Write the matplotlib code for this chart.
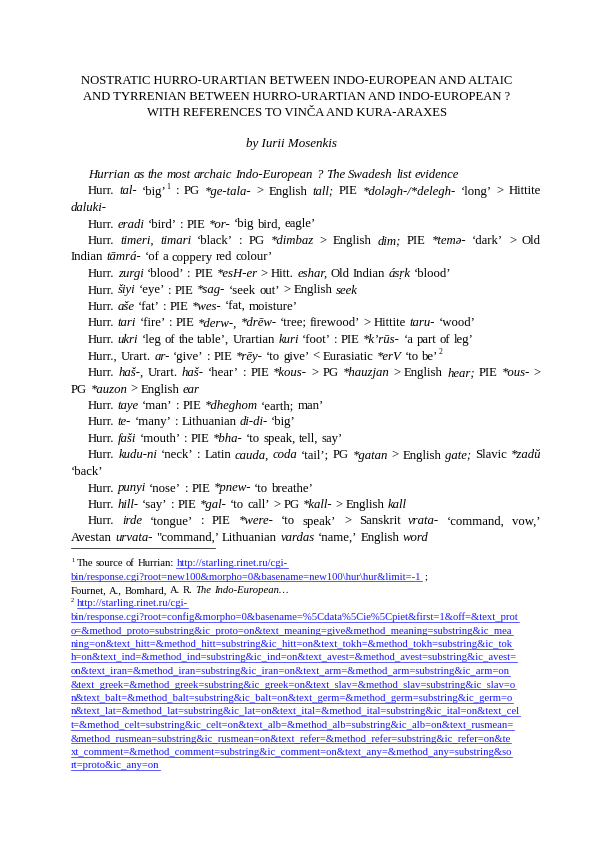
import matplotlib
matplotlib.use("Agg")
import matplotlib.pyplot as plt

W, H = 595, 842
fig = plt.figure(figsize=(W/72, H/72), dpi=72)
fig.patch.set_facecolor("white")
FAM = "Liberation Serif"

title_lines = [
    "NOSTRATIC HURRO-URARTIAN BETWEEN INDO-EUROPEAN AND ALTAIC",
    "AND TYRRENIAN BETWEEN HURRO-URARTIAN AND INDO-EUROPEAN ?",
    "WITH REFERENCES TO VINČA AND KURA-ARAXES",
]
author = "by Iurii Mosenkis"

body = [
    (True, False, [("Hurrian as the most archaic Indo-European ? The Swadesh list evidence", "i")]),
    (True, True, [("Hurr. ", "n"), ("tal-", "i"), (" ‘big’", "n"), ("1", "s"), (" : PG ", "n"), ("*ge-tala-", "i"), (" > English ", "n"), ("tall;", "i"), (" PIE ", "n"), ("*dolǝgh-/*delegh-", "i"), (" ‘long’ > Hittite", "n")]),
    (False, False, [("daluki-", "i")]),
    (True, False, [("Hurr. ", "n"), ("eradi", "i"), (" ‘bird’ : PIE ", "n"), ("*or-", "i"), (" ‘big bird, eagle’", "n")]),
    (True, True, [("Hurr. ", "n"), ("timeri, timari", "i"), (" ‘black’ : PG ", "n"), ("*dimbaz", "i"), (" > English ", "n"), ("dim;", "i"), (" PIE ", "n"), ("*temǝ-", "i"), (" ‘dark’ > Old", "n")]),
    (False, False, [("Indian ", "n"), ("tāmrá-", "i"), (" ‘of a coppery red colour’", "n")]),
    (True, False, [("Hurr. ", "n"), ("zurgi", "i"), (" ‘blood’ : PIE ", "n"), ("*esH-er", "i"), (" > Hitt. ", "n"), ("eshar,", "i"), (" Old Indian ", "n"), ("ásṛk", "i"), (" ‘blood’", "n")]),
    (True, False, [("Hurr. ", "n"), ("šiyi", "i"), (" ‘eye’ : PIE ", "n"), ("*sag-", "i"), (" ‘seek out’ > English ", "n"), ("seek", "i")]),
    (True, False, [("Hurr. ", "n"), ("aše", "i"), (" ‘fat’ : PIE ", "n"), ("*wes-", "i"), (" ‘fat, moisture’", "n")]),
    (True, False, [("Hurr. ", "n"), ("tari", "i"), (" ‘fire’ : PIE ", "n"), ("*derw-, *drēw-", "i"), (" ‘tree; firewood’ > Hittite ", "n"), ("taru-", "i"), (" ‘wood’", "n")]),
    (True, False, [("Hurr. ", "n"), ("ukri", "i"), (" ‘leg of the table’, Urartian ", "n"), ("kuri", "i"), (" ‘foot’ : PIE ", "n"), ("*k’rūs-", "i"), (" ‘a part of leg’", "n")]),
    (True, False, [("Hurr., Urart. ", "n"), ("ar-", "i"), (" ‘give’ : PIE ", "n"), ("*rēy-", "i"), (" ‘to give’ < Eurasiatic ", "n"), ("*erV", "i"), (" ‘to be’", "n"), ("2", "s")]),
    (True, True, [("Hurr. ", "n"), ("haš-,", "i"), (" Urart. ", "n"), ("haš-", "i"), (" ‘hear’ : PIE ", "n"), ("*kous-", "i"), (" > PG ", "n"), ("*hauzjan", "i"), (" > English ", "n"), ("hear;", "i"), (" PIE ", "n"), ("*ous-", "i"), (" >", "n")]),
    (False, False, [("PG ", "n"), ("*auzon", "i"), (" > English ", "n"), ("ear", "i")]),
    (True, False, [("Hurr. ", "n"), ("taye", "i"), (" ‘man’ : PIE ", "n"), ("*dheghom", "i"), (" ‘earth; man’", "n")]),
    (True, False, [("Hurr. ", "n"), ("te-", "i"), (" ‘many’ : Lithuanian ", "n"), ("di-di-", "i"), (" ‘big’", "n")]),
    (True, False, [("Hurr. ", "n"), ("faši", "i"), (" ‘mouth’ : PIE ", "n"), ("*bha-", "i"), (" ‘to speak, tell, say’", "n")]),
    (True, True, [("Hurr. ", "n"), ("kudu-ni", "i"), (" ‘neck’ : Latin ", "n"), ("cauda, coda", "i"), (" ‘tail’; PG ", "n"), ("*gatan", "i"), (" > English ", "n"), ("gate;", "i"), (" Slavic ", "n"), ("*zadŭ", "i")]),
    (False, False, [("‘back’", "n")]),
    (True, False, [("Hurr. ", "n"), ("punyi", "i"), (" ‘nose’ : PIE ", "n"), ("*pnew-", "i"), (" ‘to breathe’", "n")]),
    (True, False, [("Hurr. ", "n"), ("hill-", "i"), (" ‘say’ : PIE ", "n"), ("*gal-", "i"), (" ‘to call’ > PG ", "n"), ("*kall-", "i"), (" > English ", "n"), ("kall", "i")]),
    (True, True, [("Hurr. ", "n"), ("irde", "i"), (" ‘tongue’ : PIE ", "n"), ("*were-", "i"), (" ‘to speak’ > Sanskrit ", "n"), ("vrata-", "i"), (" ‘command, vow,’", "n")]),
    (False, False, [("Avestan ", "n"), ("urvata-", "i"), (" \"command,’ Lithuanian ", "n"), ("vardas", "i"), (" ‘name,’ English ", "n"), ("word", "i")]),
]

foot = [
    [("1", "s"), (" The source of Hurrian: ", "n"), ("http://starling.rinet.ru/cgi-", "l")],
    [("bin/response.cgi?root=new100&morpho=0&basename=new100\\hur\\hur&limit=-1", "l"), (" ;", "n")],
    [("Fournet, A., Bomhard, A. R. ", "n"), ("The Indo-European…", "i")],
    [("2", "s"), (" ", "n"), ("http://starling.rinet.ru/cgi-", "l")],
    [("bin/response.cgi?root=config&morpho=0&basename=%5Cdata%5Cie%5Cpiet&first=1&off=&text_prot", "l")],
    [("o=&method_proto=substring&ic_proto=on&text_meaning=give&method_meaning=substring&ic_mea", "l")],
    [("ning=on&text_hitt=&method_hitt=substring&ic_hitt=on&text_tokh=&method_tokh=substring&ic_tok", "l")],
    [("h=on&text_ind=&method_ind=substring&ic_ind=on&text_avest=&method_avest=substring&ic_avest=", "l")],
    [("on&text_iran=&method_iran=substring&ic_iran=on&text_arm=&method_arm=substring&ic_arm=on", "l")],
    [("&text_greek=&method_greek=substring&ic_greek=on&text_slav=&method_slav=substring&ic_slav=o", "l")],
    [("n&text_balt=&method_balt=substring&ic_balt=on&text_germ=&method_germ=substring&ic_germ=o", "l")],
    [("n&text_lat=&method_lat=substring&ic_lat=on&text_ital=&method_ital=substring&ic_ital=on&text_cel", "l")],
    [("t=&method_celt=substring&ic_celt=on&text_alb=&method_alb=substring&ic_alb=on&text_rusmean=", "l")],
    [("&method_rusmean=substring&ic_rusmean=on&text_refer=&method_refer=substring&ic_refer=on&te", "l")],
    [("xt_comment=&method_comment=substring&ic_comment=on&text_any=&method_any=substring&so", "l")],
    [("rt=proto&ic_any=on", "l")],
]

fig.canvas.draw()
R = fig.canvas.get_renderer()

def props(style, size):
    kw = dict(fontfamily=FAM, fontsize=size, color="black", va="baseline", ha="left")
    dy = 0
    if style == "i":
        kw["fontstyle"] = "italic"
    elif style == "s":
        kw["fontsize"] = size * 0.6
        dy = -size * 0.4
    elif style == "l":
        kw["color"] = "#1a1aff"
    return kw, dy

def measure(s, style, size):
    kw, _ = props(style, size)
    t = fig.text(0, 0, s, **kw)
    w = t.get_window_extent(R).width
    t.remove()
    return w

def put(x, y, s, style, size):
    kw, dy = props(style, size)
    return fig.text(x / W, 1 - (y + dy) / H, s, **kw)

def draw_line(x, y, segs, size, right=None):
    toks = []
    for s, st in segs:
        parts = s.split(" ")
        for k, p in enumerate(parts):
            if k > 0:
                toks.append((None, st))
            if p:
                toks.append((p, st))
    words = [[]]
    for p, st in toks:
        if p is None:
            if words[-1]:
                words.append([])
        else:
            words[-1].append((p, st))
    if not words[-1]:
        words.pop()
    sp = measure("a a", "n", size) - measure("aa", "n", size)
    wws = [sum(measure(p, st, size) for p, st in w) for w in words]
    gap = sp
    if right is not None and len(words) > 1:
        gap = max(sp, (right - x - sum(wws)) / (len(words) - 1))
    cx = x
    for w in words:
        for p, st in w:
            wd = measure(p, st, size)
            put(cx, y, p, st, size)
            if st == "l":
                fig.add_artist(plt.Line2D([cx / W, (cx + wd) / W], [1 - (y + 1.8) / H] * 2,
                                          color="#1a1aff", lw=0.7))
            cx += wd
        cx += gap

for i, s in enumerate(title_lines):
    fig.text(297 / W, 1 - (84 + i * 16) / H, s, fontfamily=FAM, fontsize=12.6,
             ha="center", va="baseline")
fig.text(291 / W, 1 - 147 / H, author, fontfamily=FAM, fontsize=13,
         ha="center", va="baseline", fontstyle="italic")

y0, dy = 178, 16.5
for i, (ind, just, segs) in enumerate(body):
    draw_line(88 if ind else 71, y0 + i * dy, segs, 12.8, right=541 if just else None)

fig.add_artist(plt.Line2D([71 / W, 215 / W], [1 - 548 / H] * 2, color="black", lw=0.7))

f0, fd = 566, 13.5
for i, segs in enumerate(foot):
    draw_line(71, f0 + i * fd, segs, 10.6)

fig.savefig("out.png", dpi=72, facecolor="white")
